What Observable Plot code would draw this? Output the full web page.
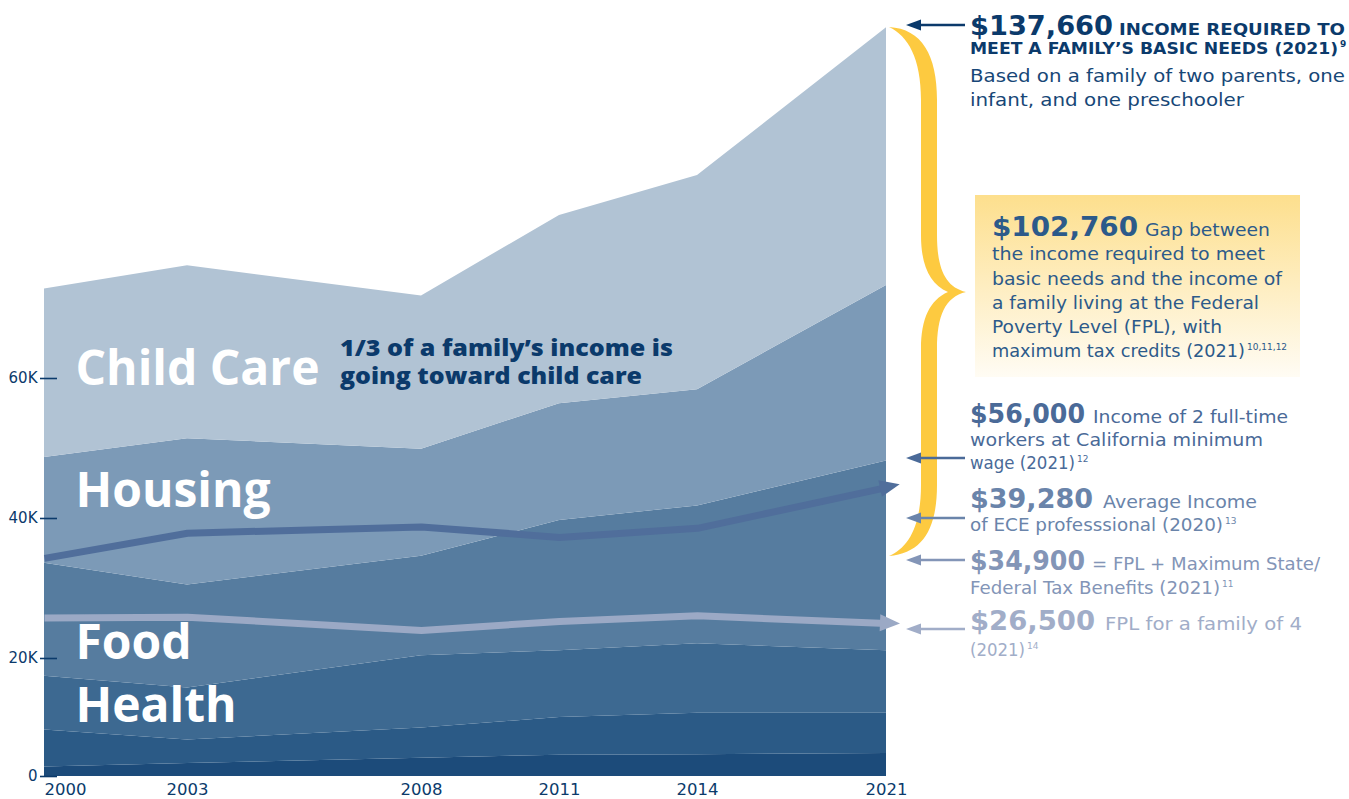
<!DOCTYPE html>
<html><head><meta charset="utf-8">
<script src="https://cdn.jsdelivr.net/npm/d3@7"></script>
<script src="https://cdn.jsdelivr.net/npm/@observablehq/plot@0.6"></script>
<style>
body{margin:0;background:#fff;}
#wrap{position:relative;width:1349px;height:799px;overflow:hidden;}
#wrap svg{position:absolute;left:0;top:0;}
</style></head><body><div id="wrap"></div>
<script>
// ---- data ----
const years = [2000, 2003, 2008, 2011, 2014, 2021];
const categories = ["Other", "Transportation", "Health", "Food", "Housing", "Child Care"];
const otherCosts     = [1600, 2200, 3100, 3600, 3700, 3900];
const transportation = [6300, 4000, 5100, 6400, 7000, 6800];
const health         = [9100, 8800, 12200, 11100, 11400, 10400];
const food           = [16600, 15500, 14200, 18600, 19700, 27100];
const housing        = [15100, 20900, 15300, 16700, 16600, 25100];
const childCare      = [24100, 24700, 21900, 26900, 30600, 36800];
const eceIncome      = [34300, 37900, 38800, 37300, 38600, 44400];
const fplIncome      = [25800, 25900, 24000, 25300, 26100, 25000];
const yTicks = [0, 20000, 40000, 60000];
const labelNames  = ["Child Care", "Housing", "Food", "Health"];
const labelLevels = [61300, 43900, 22100, 11900];

// ---- styles ----
const layerColors = ["#1c4b7a", "#2b5a86", "#3d6991", "#567c9f", "#7c9ab7", "#b1c3d4"];
const navy = "#0b3a6b";

const costs = [otherCosts, transportation, health, food, housing, childCare];
const costRows = categories.flatMap((c, i) => years.map((year, j) => ({category: c, year, value: costs[i][j]})));
const eceRows = years.map((year, i) => ({year, value: eceIncome[i]}));
const fplRows = years.map((year, i) => ({year, value: fplIncome[i]}));
const labelRows = labelNames.map((name, i) => ({name, year: years[0], level: labelLevels[i]}));

const chart = Plot.plot({
  width: 1349, height: 799,
  marginLeft: 44, marginRight: 463, marginTop: 27, marginBottom: 23,
  style: {background: "transparent", fontFamily: "DejaVu Sans", overflow: "visible"},
  x: {type: "linear", domain: years, range: [44, 187, 421, 559, 697, 886], label: null},
  y: {type: "linear", domain: yTicks, range: [776, 658, 518, 378], label: null},
  color: {domain: categories, range: layerColors},
  marks: [
    Plot.areaY(costRows, {x: "year", y: "value", z: "category", fill: "category"}),
    Plot.line(eceRows, {x: "year", y: "value", stroke: "#506e9b", strokeWidth: 7, strokeLinejoin: "miter", strokeLinecap: "butt"}),
    Plot.line(fplRows, {x: "year", y: "value", stroke: "#9ba9c5", strokeWidth: 7, strokeLinejoin: "miter", strokeLinecap: "butt"}),
    Plot.text(labelRows, {x: "year", y: "level", text: "name", textAnchor: "start", dx: 31, fill: "white", fontSize: 48, fontWeight: 700, fontFamily: "Open Sans"}),
    Plot.axisY({ticks: yTicks, anchor: "left", tickSize: 17, tickPadding: 3, dx: 13, tickFormat: d => d === 0 ? "0" : `${d / 1000}K`, fontSize: 15, color: navy, strokeWidth: 1.6, label: null}),
    Plot.axisX({ticks: years.slice(1), tickSize: 0, tickPadding: 7, tickFormat: d => String(d), fontSize: 16.5, color: navy, label: null}),
    Plot.axisX({ticks: years.slice(0, 1), tickSize: 0, tickPadding: 7, tickFormat: d => String(d), textAnchor: "start", fontSize: 16.5, color: navy, label: null})
  ]
});
document.getElementById("wrap").appendChild(chart);

// ---- annotation overlay ----
const sx = chart.scale("x"), sy = chart.scale("y");
const X = v => sx.apply ? sx.apply(v) : d3.scaleLinear(sx.domain, sx.range)(v);
const Y = v => sy.apply ? sy.apply(v) : d3.scaleLinear(sy.domain, sy.range)(v);

const svg = d3.select("#wrap").append("svg").attr("width", 1349).attr("height", 799)
  .style("pointer-events", "none");
const defs = svg.append("defs");
const grad = defs.append("linearGradient").attr("id", "gapGrad").attr("x1", 0).attr("y1", 0).attr("x2", 0).attr("y2", 1);
grad.append("stop").attr("offset", 0).attr("stop-color", "#fddf8d");
grad.append("stop").attr("offset", 1).attr("stop-color", "#fffcf4");

// arrowheads at the end of the two income lines
function lineHead(values, color) {
  const n = years.length;
  const x1 = X(years[n - 2]), y1 = Y(values[n - 2]), x2 = X(years[n - 1]), y2 = Y(values[n - 1]);
  const L = Math.hypot(x2 - x1, y2 - y1), ux = (x2 - x1) / L, uy = (y2 - y1) / L;
  const tip = [x2 + ux * 14, y2 + uy * 14], base = [x2 - ux * 6, y2 - uy * 6], h = 8.5;
  svg.append("polygon").attr("fill", color).attr("points",
    [tip, [base[0] - uy * h, base[1] + ux * h], [base[0] + uy * h, base[1] - ux * h]].map(p => p.join(",")).join(" "));
}
lineHead(eceIncome, "#506e9b");
lineHead(fplIncome, "#9ba9c5");

// brace
svg.append("path").attr("fill", "#fdca40").attr("d",
  "M889,27 C922,29 937,55 937,100 L937,235 C937,268 945,287 966,292 C945,297 937,316 937,349 L937,485 C937,530 922,553 889,556 " +
  "C908,548 921,527 921,485 L921,349 C921,318 930,300 948,292 C930,284 921,266 921,235 L921,100 C921,58 908,36 889,27 Z");

// pointer arrows
function pointer(y, color) {
  svg.append("line").attr("x1", 918).attr("x2", 965).attr("y1", y).attr("y2", y).attr("stroke", color).attr("stroke-width", 2.6);
  svg.append("polygon").attr("fill", color).attr("points", `906,${y} 921,${y - 5.5} 921,${y + 5.5}`);
}

function txt(x, y, s, o) {
  const t = svg.append("text").attr("x", x).attr("y", y)
    .attr("font-family", o.family || "DejaVu Sans")
    .attr("font-size", o.size).attr("font-weight", o.weight || 400).attr("fill", o.color);
  t.append("tspan").text(s).attr("textLength", o.end ? o.end - x : null).attr("lengthAdjust", o.end ? "spacingAndGlyphs" : null);
  if (o.sup) t.append("tspan").text(o.sup).attr("font-size", 9).attr("dx", 2).attr("dy", -7);
  return t;
}

// gap box
svg.append("rect").attr("x", 975).attr("y", 195).attr("width", 325).attr("height", 182).attr("fill", "url(#gapGrad)");

// block 1
pointer(25, navy);
txt(970, 35, "$137,660", {size: 27, weight: 700, color: navy, end: 1113});
txt(1119, 35, "INCOME REQUIRED TO", {size: 15, weight: 700, color: navy, end: 1345});
txt(970, 54, "MEET A FAMILY\u2019S BASIC NEEDS (2021)", {size: 15, weight: 700, color: navy, end: 1338, sup: "9"});
txt(970, 82, "Based on a family of two parents, one", {size: 17.5, color: "#174777", end: 1345});
txt(970, 106, "infant, and one preschooler", {size: 17.5, color: "#174777", end: 1244});

// block 2 (gap)
const gapC = "#2c5a8a";
txt(992, 236, "$102,760", {size: 27, weight: 700, color: gapC, end: 1138});
txt(1145, 236, "Gap between", {size: 17.5, color: gapC, end: 1270});
txt(992, 260, "the income required to meet", {size: 17.5, color: gapC, end: 1265});
txt(992, 285, "basic needs and the income of", {size: 17.5, color: gapC, end: 1282});
txt(992, 309, "a family living at the Federal", {size: 17.5, color: gapC, end: 1259});
txt(992, 333, "Poverty Level (FPL), with", {size: 17.5, color: gapC, end: 1222});
txt(992, 357, "maximum tax credits (2021)", {size: 17.5, color: gapC, end: 1245, sup: "10,11,12"});

// block 3
const c56 = "#4a6a98";
pointer(458, c56);
txt(970, 423, "$56,000", {size: 27, weight: 700, color: c56, end: 1085});
txt(1093, 423, "Income of 2 full-time", {size: 17.5, color: c56, end: 1288});
txt(970, 446, "workers at California minimum", {size: 17.5, color: c56, end: 1263});
txt(970, 469, "wage (2021)", {size: 17.5, color: c56, end: 1075, sup: "12"});

// block 4
const c39 = "#6a84aa";
pointer(518, c39);
txt(970, 508, "$39,280", {size: 27, weight: 700, color: c39, end: 1093});
txt(1103, 508, "Average Income", {size: 17.5, color: c39, end: 1257});
txt(970, 531, "of ECE professsional (2020)", {size: 17.5, color: c39, end: 1223, sup: "13"});

// block 5
const c34 = "#8395b7";
pointer(560, c34);
txt(970, 570, "$34,900", {size: 27, weight: 700, color: c34, end: 1085});
txt(1092, 570, "= FPL + Maximum State/", {size: 17.5, color: c34, end: 1320});
txt(970, 594, "Federal Tax Benefits (2021)", {size: 17.5, color: c34, end: 1220, sup: "11"});

// block 6
const c26 = "#a1adc8";
pointer(629, c26);
txt(970, 630, "$26,500", {size: 27, weight: 700, color: c26, end: 1095});
txt(1105, 630, "FPL for a family of 4", {size: 17.5, color: c26, end: 1302});
txt(970, 656, "(2021)", {size: 17.5, color: c26, end: 1025, sup: "14"});

// child care callout
txt(340, 356, "1/3 of a family\u2019s income is", {size: 22, weight: 800, color: navy, family: "Open Sans", end: 673});
txt(340, 384, "going toward child care", {size: 22, weight: 800, color: navy, family: "Open Sans", end: 642});
</script>
</body></html>
